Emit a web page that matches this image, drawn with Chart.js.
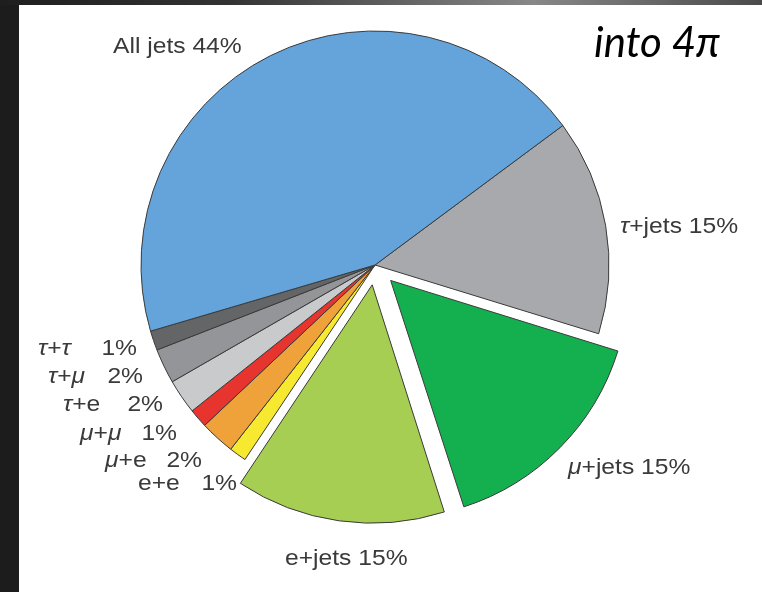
<!DOCTYPE html>
<html>
<head>
<meta charset="utf-8">
<script src="https://cdn.jsdelivr.net/npm/chart.js"></script>
<style>
    html, body { margin: 0; padding: 0; }
    body { width: 762px; height: 592px; overflow: hidden; background: #1c1c1c; position: relative; }
    #topband { position: absolute; left: 0; top: 0; width: 762px; height: 5px;
        background: linear-gradient(90deg, #1e1e1e 0%, #333 30%, #888 70%, #4a4a4a 100%); }
    #panel { position: absolute; left: 19px; top: 5px; right: 0; bottom: 0; background: #fff; }
    #chart { position: absolute; left: 0; top: 0; }
</style>
</head>
<body>
<div id="topband"></div>
<div id="panel"></div>
<canvas id="chart" width="762" height="592"></canvas>
<script>
// slices, clockwise from the tau+jets / all-jets boundary
const sliceNames = ['τ+jets', 'μ+jets', 'e+jets', 'e+e', 'μ+e', 'μ+μ', 'τ+e', 'τ+μ', 'τ+τ', 'All jets'];
// percentages printed on the figure
const printedPct = [15, 15, 15, 1, 2, 1, 2, 2, 1, 44];
// share of the circle each slice actually takes in the picture
const shares = [14.9, 15.3, 14.3, 1.2, 2.4, 1.3, 2.4, 2.4, 1.35, 44.35];

const sliceColors = ['#a7a9ac', '#14b04f', '#a6ce52', '#f7e930', '#f0a23a', '#e8342f',
    '#c9cacc', '#939598', '#646567', '#65a4da'];
const explode = [0, 88, 80, 0, 0, 0, 0, 0, 0, 0];

// text layout: [slice index, x, baseline, pct right edge or null]
const labelSpots = [
    [9, 113, 53, null],
    [0, 620, 233, null],
    [1, 568, 474, null],
    [2, 285, 565, null],
    [3, 138, 490, 237],
    [4, 105, 467, 202],
    [5, 80, 440, 177],
    [6, 63, 411, 163],
    [7, 48, 383, 143],
    [8, 38, 355, 137]
];

const FONT = '"Liberation Sans", Arial, sans-serif';
const SX = 1.12;

function drawSegments(ctx, text, x, y) {
    // greek letters in italic, the rest upright
    let cx = x;
    for (const ch of text) {
        const greek = /[τμ]/.test(ch);
        ctx.font = (greek ? 'italic ' : '') + '22px ' + FONT;
        ctx.save();
        ctx.translate(cx, y);
        ctx.scale(SX, 1);
        ctx.fillText(ch, 0, 0);
        ctx.restore();
        cx += ctx.measureText(ch).width * SX;
    }
}

const labelPlugin = {
    id: 'sliceLabels',
    afterDraw(chart) {
        const ctx = chart.ctx;
        ctx.save();
        ctx.fillStyle = '#3a3a3a';
        ctx.textBaseline = 'alphabetic';
        ctx.textAlign = 'left';
        labelSpots.forEach(([i, x, y, right]) => {
            if (right === null) {
                drawSegments(ctx, sliceNames[i] + ' ' + printedPct[i] + '%', x, y);
            } else {
                drawSegments(ctx, sliceNames[i], x, y);
                const pct = printedPct[i] + '%';
                ctx.font = '22px ' + FONT;
                const w = ctx.measureText(pct).width * SX;
                drawSegments(ctx, pct, right - w, y);
            }
        });
        ctx.fillStyle = '#000';
        ctx.font = 'italic 42px Lato, "Open Sans", sans-serif';
        ctx.fillText('into 4π', 594, 57);
        ctx.restore();
    }
};

new Chart(document.getElementById('chart'), {
    type: 'pie',
    data: {
        labels: sliceNames,
        datasets: [{
            data: shares,
            backgroundColor: sliceColors,
            borderColor: '#3a3a3a',
            borderWidth: 1,
            offset: explode
        }]
    },
    options: {
        responsive: false,
        animation: false,
        rotation: 53.4,
        radius: 234,
        layout: { padding: { left: 0, right: 12, top: 0, bottom: 62 } },
        plugins: { legend: { display: false }, tooltip: { enabled: false } }
    },
    plugins: [labelPlugin]
});
</script>
</body>
</html>
